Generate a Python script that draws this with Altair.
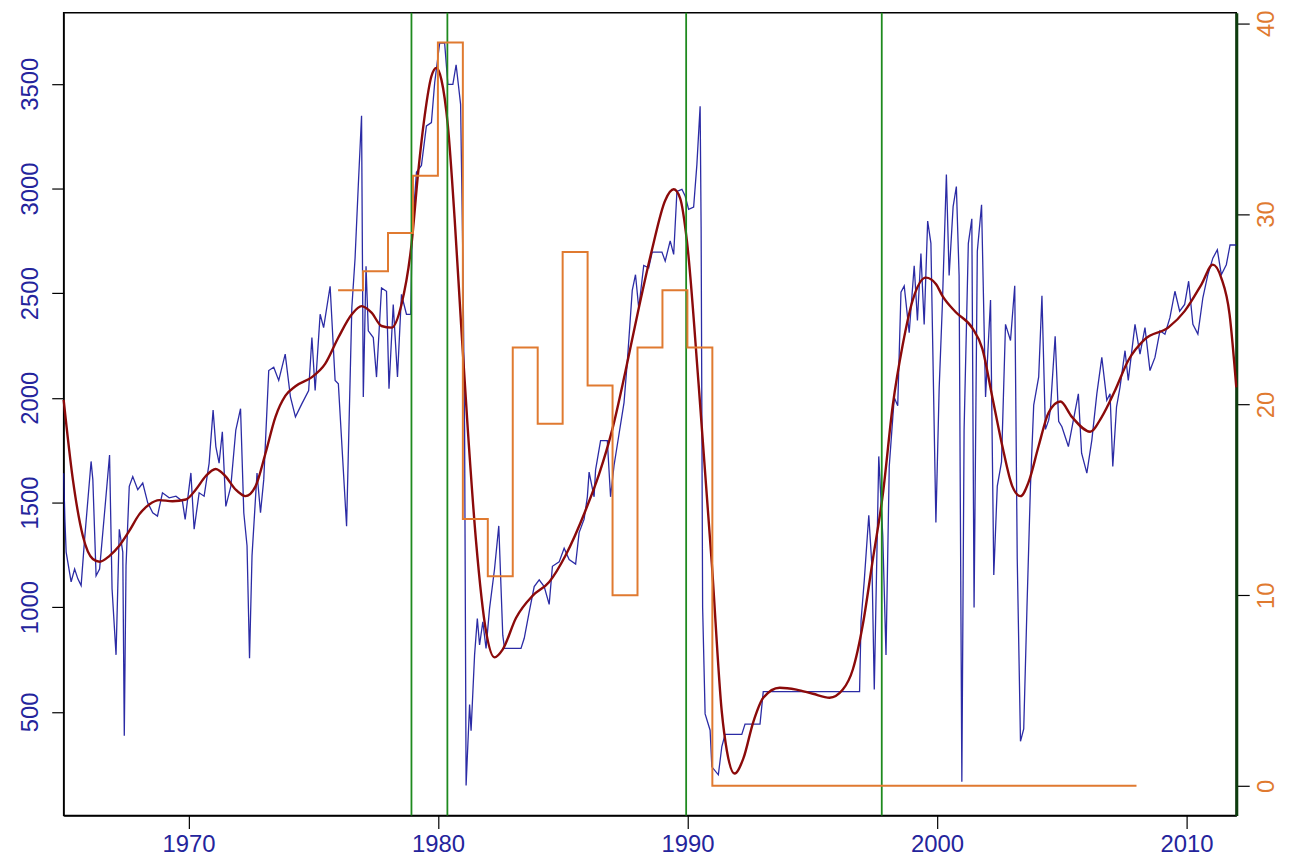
import altair as alt
import pandas as pd

# ---- data ----
blue_years = [1965.00, 1965.05, 1965.10, 1965.30, 1965.44, 1965.57, 1965.70, 1965.84, 1966.10, 1966.17,
              1966.30, 1966.44, 1966.64, 1966.84, 1966.94, 1967.10, 1967.23, 1967.37, 1967.43, 1967.50,
              1967.63, 1967.77, 1967.97, 1968.17, 1968.37, 1968.57, 1968.76, 1968.96, 1969.23, 1969.50,
              1969.76, 1969.87, 1970.10, 1970.23, 1970.43, 1970.63, 1970.83, 1970.99, 1971.10, 1971.23,
              1971.36, 1971.50, 1971.70, 1971.90, 1972.09, 1972.22, 1972.35, 1972.45, 1972.55, 1972.75,
              1972.89, 1973.02, 1973.22, 1973.42, 1973.62, 1973.88, 1974.09, 1974.29, 1974.55, 1974.82,
              1974.95, 1975.08, 1975.28, 1975.42, 1975.68, 1975.88, 1976.01, 1976.34, 1976.55, 1976.68,
              1976.81, 1976.94, 1977.01, 1977.12, 1977.21, 1977.41, 1977.54, 1977.74, 1977.94, 1978.04,
              1978.21, 1978.38, 1978.54, 1978.74, 1978.91, 1978.97, 1979.14, 1979.34, 1979.54, 1979.74,
              1979.87, 1980.07, 1980.27, 1980.40, 1980.60, 1980.73, 1980.91, 1981.00, 1981.07, 1981.13,
              1981.27, 1981.33, 1981.47, 1981.58, 1981.67, 1981.80, 1981.93, 1982.07, 1982.27, 1982.44,
              1982.60, 1982.67, 1983.33, 1983.46, 1983.66, 1983.86, 1984.06, 1984.26, 1984.46, 1984.59,
              1984.86, 1985.06, 1985.26, 1985.52, 1985.66, 1985.86, 1985.99, 1986.06, 1986.26, 1986.32,
              1986.52, 1986.79, 1986.92, 1987.06, 1987.26, 1987.46, 1987.59, 1987.79, 1987.92, 1988.05,
              1988.25, 1988.45, 1988.59, 1988.98, 1989.11, 1989.31, 1989.45, 1989.58, 1989.78, 1989.91,
              1990.05, 1990.25, 1990.38, 1990.51, 1990.55, 1990.61, 1990.71, 1990.91, 1990.98, 1991.24,
              1991.38, 1991.51, 1992.18, 1992.31, 1992.91, 1993.04, 1996.90, 1996.96, 1997.09, 1997.27,
              1997.40, 1997.49, 1997.67, 1997.83, 1997.96, 1998.09, 1998.29, 1998.43, 1998.56, 1998.69,
              1998.89, 1999.09, 1999.22, 1999.36, 1999.49, 1999.63, 1999.76, 1999.96, 2000.09, 2000.22,
              2000.38, 2000.49, 2000.65, 2000.78, 2000.89, 2001.00, 2001.09, 2001.26, 2001.40, 2001.49,
              2001.62, 2001.79, 2001.95, 2002.15, 2002.28, 2002.42, 2002.59, 2002.75, 2002.95, 2003.12,
              2003.22, 2003.35, 2003.48, 2003.61, 2003.75, 2003.88, 2004.08, 2004.21, 2004.35, 2004.48,
              2004.55, 2004.74, 2004.88, 2005.01, 2005.27, 2005.47, 2005.67, 2005.80, 2006.01, 2006.21,
              2006.41, 2006.61, 2006.81, 2006.94, 2007.05, 2007.20, 2007.34, 2007.54, 2007.67, 2007.94,
              2008.14, 2008.34, 2008.54, 2008.74, 2008.94, 2009.14, 2009.34, 2009.54, 2009.73, 2009.93,
              2010.09, 2010.26, 2010.46, 2010.66, 2010.86, 2011.06, 2011.24, 2011.40, 2011.60, 2011.75,
              2012.00]
blue_values = [1640, 1420, 1263, 1121, 1182, 1135, 1103, 1325, 1696, 1609,
               1150, 1182, 1452, 1727, 1088, 772, 1372, 1263, 386, 1198,
               1577, 1624, 1561, 1593, 1498, 1451, 1435, 1546, 1522, 1530,
               1506, 1419, 1641, 1372, 1546, 1530, 1687, 1941, 1767, 1688,
               1838, 1481, 1577, 1846, 1948, 1451, 1293, 756, 1245, 1641,
               1451, 1609, 2130, 2146, 2083, 2209, 2004, 1909, 1972, 2035,
               2288, 2035, 2399, 2335, 2533, 2083, 2067, 1386, 2430, 2667,
               3015, 3347, 2004, 2628, 2320, 2288, 2099, 2525, 2509, 2043,
               2446, 2099, 2494, 2399, 2399, 2794, 3078, 3110, 3299, 3315,
               3504, 3694, 3694, 3497, 3497, 3591, 3402, 2667, 1846, 148,
               535, 409, 772, 945, 819, 930, 803, 993, 1182, 1388,
               866, 803, 803, 851, 977, 1098, 1130, 1098, 1013, 1195,
               1216, 1281, 1227, 1206, 1356, 1420, 1527, 1645, 1527, 1656,
               1795, 1795, 1527, 1677, 1827, 1977, 2170, 2513, 2588, 2428,
               2632, 2621, 2696, 2696, 2653, 2750, 2685, 2986, 2996, 2964,
               2900, 2911, 3114, 3393, 2814, 1000, 490, 412, 237, 199,
               334, 392, 392, 441, 441, 596, 596, 935, 1129, 1439,
               1187, 606, 1720, 1342, 771, 1672, 2001, 1962, 2505, 2534,
               2311, 2631, 2369, 2689, 2350, 2844, 2738, 1404, 2042, 2448,
               3067, 2584, 2913, 3009, 2584, 166, 1849, 2738, 2855, 998,
               2700, 2922, 2004, 2467, 1153, 1578, 1694, 2351, 2274, 2535,
               1230, 359, 418, 998, 1578, 1965, 2100, 2487, 1849, 1893,
               1945, 2294, 1888, 1862, 1767, 1893, 2019, 1735, 1640, 1798,
               2019, 2193, 1988, 2019, 1672, 1957, 2051, 2225, 2083, 2351,
               2209, 2335, 2130, 2193, 2320, 2304, 2383, 2509, 2414, 2446,
               2557, 2351, 2304, 2478, 2588, 2667, 2707, 2588, 2636, 2730,
               2730]

smooth_years = [1965.00, 1965.37, 1965.77, 1966.17, 1966.44, 1966.84, 1967.23, 1967.63, 1968.03, 1968.43,
                1968.83, 1969.36, 1969.90, 1970.30, 1970.69, 1971.09, 1971.49, 1971.89, 1972.29, 1972.69,
                1973.09, 1973.49, 1973.89, 1974.29, 1974.95, 1975.48, 1976.01, 1976.55, 1976.94, 1977.34,
                1977.74, 1978.14, 1978.54, 1978.94, 1979.21, 1979.47, 1979.74, 1979.94, 1980.14, 1980.40,
                1980.67, 1980.93, 1981.20, 1981.53, 1981.93, 1982.27, 1982.60, 1983.13, 1983.80, 1984.46,
                1985.12, 1985.92, 1986.46, 1986.99, 1987.52, 1988.05, 1988.58, 1989.11, 1989.45, 1989.71,
                1989.98, 1990.45, 1990.98, 1991.38, 1991.58, 1991.89, 1992.24, 1992.64, 1993.04, 1993.70,
                1994.37, 1995.03, 1995.70, 1996.23, 1996.63, 1997.03, 1997.43, 1997.83, 1998.23, 1998.63,
                1999.03, 1999.56, 1999.96, 2000.22, 2000.75, 2001.42, 2001.82, 2002.22, 2002.62, 2003.02,
                2003.35, 2003.68, 2004.08, 2004.48, 2004.95, 2005.41, 2006.14, 2006.61, 2007.14, 2007.67,
                2008.34, 2009.27, 2009.93, 2010.60, 2011.06, 2011.40, 2011.73, 2012.00]
smooth_values = [1990, 1609, 1340, 1230, 1217, 1245, 1293, 1364, 1443, 1490,
                 1511, 1506, 1514, 1562, 1625, 1660, 1625, 1562, 1530, 1577,
                 1735, 1909, 2010, 2055, 2099, 2162, 2288, 2399, 2438, 2407,
                 2343, 2335, 2446, 2730, 3078, 3347, 3536, 3576, 3520, 3299,
                 2857, 2351, 1846, 1313, 884, 760, 798, 948, 1055, 1120,
                 1248, 1463, 1635, 1849, 2128, 2428, 2707, 2943, 2996, 2953,
                 2750, 2064, 1206, 498, 315, 205, 276, 451, 567, 615,
                 606, 586, 567, 606, 702, 916, 1226, 1536, 1962, 2253,
                 2466, 2574, 2544, 2487, 2410, 2333, 2235, 2004, 1771, 1578,
                 1530, 1599, 1771, 1930, 1982, 1909, 1838, 1909, 2035, 2178,
                 2280, 2335, 2414, 2541, 2636, 2572, 2399, 2050]

step_years = [1976, 1977, 1978, 1979, 1980, 1981, 1982, 1983, 1984, 1985, 1986, 1987, 1988, 1989, 1990,
              1991, 1992, 1993, 1994, 1995, 1996, 1997, 1998, 1999, 2000, 2001, 2002, 2003, 2004, 2005,
              2006, 2007, 2008]
step_values = [26, 27, 29, 32, 39, 14, 11, 23, 19, 28, 21, 10, 23, 26, 23,
               0, 0, 0, 0, 0, 0, 0, 0, 0, 0, 0, 0, 0, 0, 0,
               0, 0, 0]

event_years = [1978.94, 1980.38, 1989.95, 1997.79]

x_ticks = [1970, 1980, 1990, 2000, 2010]
left_ticks = [500, 1000, 1500, 2000, 2500, 3000, 3500]
right_ticks = [0, 10, 20, 30, 40]

x_domain = [1965, 2012]
left_domain = [4, 3840]
right_domain = [-1.56, 40.56]

# ---- styles ----
FONT = "Liberation Sans"
FS = 24
NAVY = "#24249c"
ORANGE = "#e07a30"

blue_df = pd.DataFrame({"year": blue_years, "value": blue_values})
smooth_df = pd.DataFrame({"year": smooth_years, "value": smooth_values})
step_df = pd.DataFrame({"year": step_years, "value": step_values})
event_df = pd.DataFrame({"year": event_years})

x_scale = alt.Scale(domain=x_domain, nice=False, zero=False)

x_enc = alt.X("year:Q",
              scale=x_scale,
              axis=alt.Axis(values=x_ticks, format="d", title=None, grid=False,
                            labelFont=FONT, labelFontSize=FS, labelColor=NAVY,
                            tickSize=13, tickColor="black", tickWidth=1.2,
                            domainColor="black", domainWidth=1.2,
                            labelPadding=23, labelBaseline="alphabetic"))

left_scale = alt.Scale(domain=left_domain, nice=False, zero=False)
left_axis = alt.Axis(values=left_ticks, format="d", title=None, grid=False, orient="left",
                     labelFont=FONT, labelFontSize=FS, labelColor=NAVY,
                     labelAngle=270, labelAlign="center", labelBaseline="alphabetic",
                     labelPadding=14, tickSize=12, tickColor="black", tickWidth=1.2,
                     domainColor="black", domainWidth=1.2)

blue = alt.Chart(blue_df).mark_line(color="#14149b", strokeWidth=1.3, opacity=0.9).encode(
    x=x_enc,
    y=alt.Y("value:Q", scale=left_scale, axis=left_axis),
)

smooth = alt.Chart(smooth_df).mark_line(color="#8b0a0a", strokeWidth=2.4, interpolate="monotone").encode(
    x=alt.X("year:Q", scale=x_scale),
    y=alt.Y("value:Q", scale=left_scale),
)

events = alt.Chart(event_df).mark_rule(color="#1e8a1e", strokeWidth=1.8).encode(
    x=alt.X("year:Q", scale=x_scale),
)

left_layer = alt.layer(blue, smooth, events)

steps = alt.Chart(step_df).mark_line(color=ORANGE, strokeWidth=2, interpolate="step-after").encode(
    x=alt.X("year:Q", scale=x_scale),
    y=alt.Y("value:Q",
            scale=alt.Scale(domain=right_domain, nice=False, zero=False),
            axis=alt.Axis(values=right_ticks, format="d", title=None, grid=False, orient="right",
                          labelFont=FONT, labelFontSize=FS, labelColor=ORANGE,
                          labelAngle=270, labelAlign="center", labelBaseline="middle",
                          labelPadding=17, tickSize=13, tickColor="black", tickWidth=1.2,
                          domainColor="#0d3d0d", domainWidth=3)),
)

chart = alt.layer(left_layer, steps).resolve_scale(y="independent").properties(
    width=1180,
    height=808,
    autosize=alt.AutoSizeParams(type="none"),
    padding={"left": 56, "top": 2, "right": 48, "bottom": 42},
    background="white",
).configure_view(stroke="black", strokeWidth=1.5)

chart.save("out.html", embed_options={"renderer": "svg", "actions": False})
